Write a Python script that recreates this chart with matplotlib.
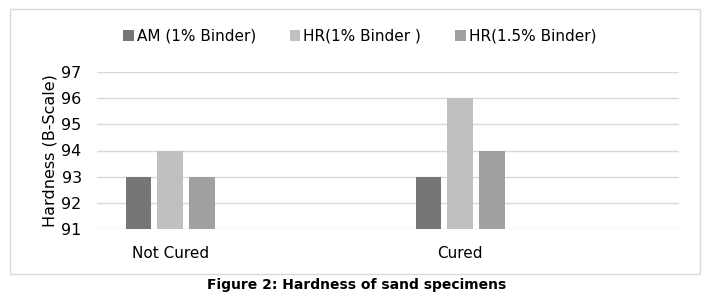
import numpy as np
import matplotlib.pyplot as plt
from matplotlib.patches import Rectangle

# --- datos ---
categorias = ['Not Cured', 'Cured']
series = ['AM (1% Binder)', 'HR(1% Binder )', 'HR(1.5% Binder)']
am_1 = [93, 93]
hr_1 = [94, 96]
hr_15 = [93, 94]
colores = ['#767676', '#c0c0c0', '#a0a0a0']

fig = plt.figure(figsize=(7.14, 3.02), dpi=100)
ax = fig.add_axes([97 / 714, 1 - 229 / 302, (679 - 97) / 714, (229 - 72) / 302])

x = np.arange(len(categorias))
ancho = 0.087
offs = [-0.11, 0, 0.11]
valores = [am_1, hr_1, hr_15]
base = 91
for i in range(3):
    alturas = [v - base for v in valores[i]]
    ax.bar(x + offs[i], alturas, ancho, bottom=base, color=colores[i],
           label=series[i], zorder=3)

ax.set_ylim(91, 97)
ax.set_yticks(range(91, 98))
ax.set_xlim(-0.252, 1.755)
ax.set_xticks(x)
ax.set_xticklabels(categorias, fontsize=11)
ax.tick_params(axis='y', labelsize=11.5, length=0, pad=11)
ax.tick_params(axis='x', length=0, pad=12)
ax.grid(axis='y', color='#d9d9d9', linewidth=1, zorder=0)
for s in ax.spines.values():
    s.set_visible(False)
ax.set_ylabel('Hardness (B-Scale)', fontsize=11.5, labelpad=3)

ax.legend(loc='lower left', bbox_to_anchor=(20 / 582, 1.14), ncol=3, frameon=False,
          fontsize=11, handlelength=0.7, handleheight=0.7, handletextpad=0.2,
          columnspacing=2.2, borderaxespad=0)

# marco del gráfico
fig.patches.append(Rectangle((10 / 714, 1 - 274 / 302), 690 / 714, 265 / 302,
                             transform=fig.transFigure, fill=False,
                             edgecolor='#d9d9d9', linewidth=1))

fig.text(0.5, 1 - 285 / 302, 'Figure 2: Hardness of sand specimens',
         ha='center', va='center', fontsize=10, fontweight='bold')

fig.savefig('out.png', dpi=100)
